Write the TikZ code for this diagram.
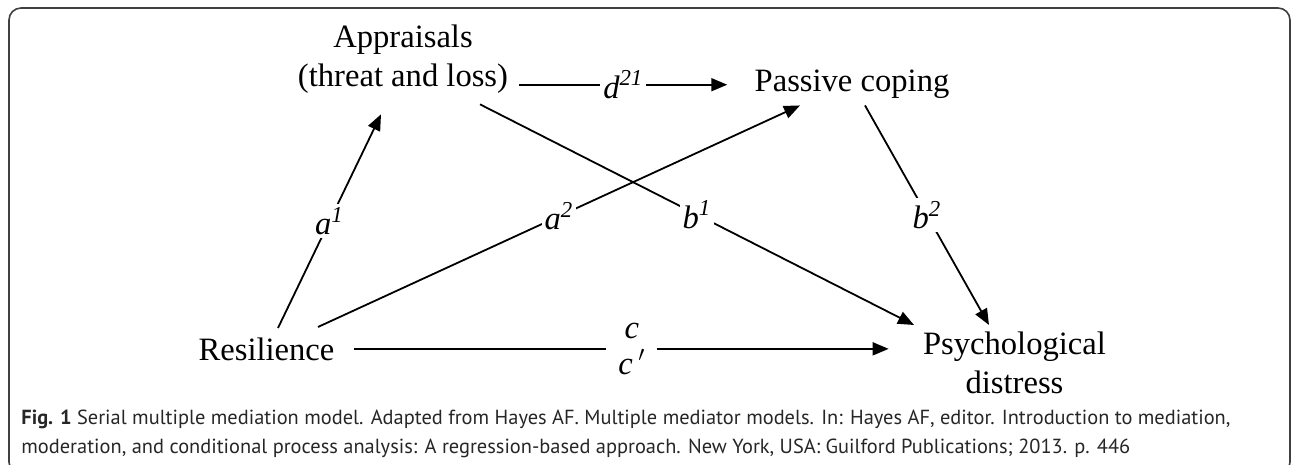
\documentclass[tikz,border=0pt]{standalone}
\usepackage{fontspec}
\setmainfont{Liberation Serif}
\newfontfamily\capfont{PT Sans}
\usetikzlibrary{arrows.meta}

\begin{document}
\begin{tikzpicture}[x=0.5pt, y=-0.5pt,
  var/.style={font=\fontsize{16.3}{19.5}\selectfont, inner sep=0pt, align=center},
  arrow/.style={-{Triangle[length=8pt,width=6.5pt]}, line width=0.9pt},
  coef/.style={fill=white, inner sep=1.5pt, font=\fontsize{16.3}{18}\selectfont\itshape}
]
\useasboundingbox (0,0) rectangle (1292,465);

% --- Frame ---
\begin{scope}
  \clip (0,0) rectangle (1292,465);
  \draw[line width=0.8pt, black!75, rounded corners=6pt] (9,8) rectangle (1290,474);
\end{scope}

% --- Nodes (base = last line) ---
\node[var, anchor=base] (app) at (403,87)     {Appraisals\\(threat and loss)};
\node[var, anchor=base] (pas) at (852,92)     {Passive coping};
\node[var, anchor=base] (res) at (266.5,360)  {Resilience};
\node[var, anchor=base] (psy) at (1014.5,393) {Psychological\\distress};

% --- Paths ---
\draw[arrow] ([xshift=5.5pt]app.east |- pas.west) -- node[coef]{d\textsuperscript{21}} ([xshift=-13.5pt]pas.west);
\draw[arrow] ([xshift=5.75pt,yshift=4.5pt]res.north) -- node[coef]{a\textsuperscript{1}} ([xshift=-11pt,yshift=-10pt]app.south);
\draw[arrow] ([xshift=25.75pt,yshift=5pt]res.north) -- node[coef]{a\textsuperscript{2}} ([xshift=-26pt,yshift=-3pt]pas.south);
\draw[arrow] ([xshift=38.5pt,yshift=-5pt]app.south) -- node[coef]{b\textsuperscript{1}} ([xshift=-50.25pt,yshift=3pt]psy.north);
\draw[arrow] ([xshift=6.5pt,yshift=-3pt]pas.south) -- node[coef]{b\textsuperscript{2}} ([xshift=-12.75pt,yshift=3pt]psy.north);
\draw[arrow] ([xshift=9.5pt]res.east) -- node[coef, pos=0.52, align=center, inner xsep=6pt, inner ysep=0pt]{c\\c\,$'$} ([xshift=-17pt]psy.west |- res.east);

% --- Caption ---
\node[anchor=base west, inner sep=0pt, align=left, text=black!85, font=\capfont\fontsize{10.2}{14.5}\selectfont] (cap) at (21,453)
  {\textbf{Fig. 1} Serial multiple mediation model. Adapted from Hayes AF. Multiple mediator models. In: Hayes AF, editor. Introduction to mediation,\\
   moderation, and conditional process analysis: A regression-based approach. New York, USA: Guilford Publications; 2013. p. 446};

\end{tikzpicture}
\end{document}
